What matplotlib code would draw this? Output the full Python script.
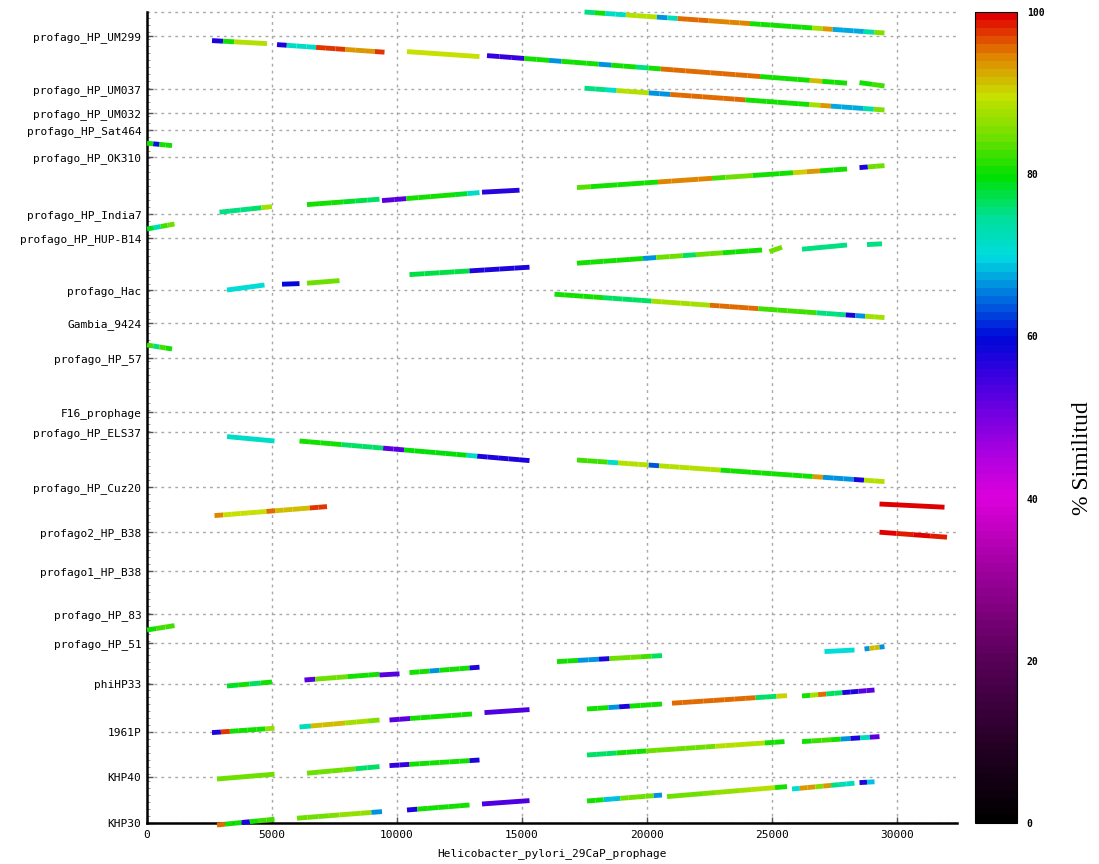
import numpy as np
import matplotlib
matplotlib.use("Agg")
import matplotlib.pyplot as plt
from matplotlib.collections import LineCollection
from matplotlib.colors import LinearSegmentedColormap, Normalize
from matplotlib.cm import ScalarMappable
from matplotlib.ticker import MultipleLocator

# query prophages (bottom to top) and where each starts on the concatenated axis, bp
prophages = ["KHP30", "KHP40", "1961P", "phiHP33", "profago_HP_51", "profago_HP_83",
             "profago1_HP_B38", "profago2_HP_B38", "profago_HP_Cuz20", "profago_HP_ELS37",
             "F16_prophage", "profago_HP_57", "Gambia_9424", "profago_Hac",
             "profago_HP_HUP-B14", "profago_HP_India7", "profago_HP_OK310",
             "profago_HP_Sat464", "profago_HP_UM032", "profago_HP_UM037", "profago_HP_UM299"]
starts = [0, 23000, 45700, 69500, 90000, 104500, 126000, 145700, 168000, 195700,
          205500, 232400, 250000, 266300, 292500, 304300, 332900, 346300, 354900,
          366900, 393500]
query_total = 405500
ref_length = 32400
ref_name = "Helicobacter_pylori_29CaP_prophage"

# alignment blocks: (ref start, ref end, query start, query end, % similarity along the block)
blocks_KHP30 = [
    (2800, 5100, -1000, 1900, [95, 80, 80, 58, 80, 82, 82]),
    (6000, 9400, 2400, 5700, [84, 84, 84, 85, 86, 86, 86, 66]),
    (10400, 12900, 6500, 9000, [58, 80, 80, 80, 80, 80]),
    (13400, 15300, 9500, 11200, [53]),
    (17600, 20600, 11000, 14000, [80, 80, 68, 68, 84, 84, 84, 84, 66]),
    (20800, 25600, 13200, 18200, [84, 84, 84, 85, 86, 86, 87, 88, 88, 80]),
    (25800, 28300, 17000, 19900, [70, 93, 93, 85, 93, 75, 72, 72]),
    (28500, 29100, 20200, 20600, [58, 68]),
]
blocks_KHP40 = [
    (2800, 5100, 22000, 24400, [84]),
    (6400, 9300, 24900, 28200, [84, 84, 84, 84, 76, 76]),
    (9700, 13300, 28700, 31500, [55, 55, 80, 80, 80, 80, 80, 80, 58]),
    (17600, 25500, 34000, 40700, [76, 76, 76, 80, 80, 80, 84, 84, 84, 84, 84, 84, 84,
                                  88, 88, 88, 88, 88, 80, 80]),
    (26200, 29300, 40700, 43200, [80, 82, 82, 80, 66, 58, 72, 52]),
]
blocks_1961P = [
    (2600, 5100, 45200, 47400, [58, 97, 80, 80, 80, 80, 86]),
    (6100, 9300, 48000, 51500, [72, 91, 91, 91, 87, 87, 85]),
    (9700, 13000, 51500, 54500, [52, 52, 80, 80, 80, 80, 80, 80]),
    (13500, 15300, 55200, 56700, [53]),
    (17600, 20600, 57000, 59500, [80, 80, 66, 58, 80, 80, 80]),
    (21000, 25600, 59900, 63700, [95, 95, 95, 95, 95, 95, 95, 95, 76, 76, 90]),
    (26200, 29100, 63500, 66500, [80, 87, 95, 76, 76, 58, 58, 52, 52]),
]
blocks_phiHP33 = [
    (3200, 5000, 68500, 70500, [78, 80, 76, 80]),
    (6300, 9300, 71500, 74400, [52, 84, 84, 84, 80, 80, 80]),
    (9300, 10100, 74000, 74600, [52]),
    (10500, 13300, 75200, 77900, [80, 80, 66, 80, 80, 80, 58]),
    (16400, 20600, 80700, 83700, [80, 80, 66, 66, 58, 84, 84, 84, 82, 76]),
    (27100, 28300, 85700, 86500, [70]),
    (28700, 29500, 87000, 88200, [66, 91, 91, 66]),
]
blocks_HP_51 = [
    (0, 1100, 96500, 98700, [80, 82, 82]),
]
blocks_B38 = [
    (29300, 32000, 145400, 142900, [99, 98, 99, 98]),
    (2700, 7200, 153700, 158200, [94, 89, 89, 89, 89, 89, 95, 91, 91, 91, 91, 97, 97]),
    (29300, 31900, 159500, 157900, [99]),
]
blocks_Cuz20 = [
    (17200, 29500, 181500, 170700, [82, 82, 82, 71, 88, 88, 88, 63, 88, 88, 88, 88, 88,
                                    88, 80, 80, 80, 80, 80, 80, 80, 80, 80, 93, 66, 66,
                                    66, 58, 88, 88]),
    (3200, 5100, 193200, 191000, [71]),
    (6100, 15300, 191000, 181200, [80, 80, 80, 80, 76, 76, 76, 76, 52, 52, 79, 79, 79,
                                   79, 79, 79, 71, 58, 58, 58, 58, 58]),
]
blocks_HP_57 = [
    (0, 1000, 239000, 237000, [82, 75, 82, 80]),
]
blocks_Gambia = [
    (16300, 29500, 264400, 252700, [80, 80, 80, 80, 80, 76, 76, 76, 76, 76, 87, 87, 87,
                                    87, 87, 87, 95, 95, 95, 95, 95, 82, 82, 82, 82, 82,
                                    82, 75, 75, 75, 58, 66, 87, 87]),
]
blocks_Hac = [
    (3200, 4700, 266500, 269000, [70]),
    (5400, 6100, 269400, 269700, [59]),
    (6400, 7700, 269900, 271200, [84]),
    (10500, 15300, 274200, 277900, [77, 77, 77, 77, 58, 58, 58, 58]),
    (17200, 24600, 279900, 286500, [80, 80, 80, 80, 80, 66, 84, 84, 76, 84, 84, 80, 80, 80]),
    (24900, 25400, 285700, 287900, [84]),
    (26200, 28000, 286900, 289000, [75]),
    (28800, 29400, 289200, 289600, [75]),
]
blocks_HUP_B14 = [
    (0, 1100, 297000, 299500, [78, 72, 82, 84]),
]
blocks_India7 = [
    (2900, 5000, 305400, 308200, [75, 75, 75, 76, 87]),
    (6400, 9300, 309200, 311900, [80, 80, 80, 78, 77, 76]),
    (9400, 13300, 311200, 315200, [52, 52, 80, 80, 80, 80, 78, 71]),
    (13400, 14900, 315400, 316400, [57]),
    (17200, 28000, 317700, 327000, [83, 80, 80, 80, 80, 80, 94, 94, 94, 94, 82, 84, 84,
                                    80, 80, 80, 90, 93, 80, 80]),
    (28500, 29500, 327700, 328700, [58, 84, 84]),
]
blocks_OK310 = [
    (0, 1000, 339900, 338700, [80, 60, 80, 80]),
]
blocks_UM032 = [
    (17500, 29500, 367400, 356500, [75, 75, 71, 88, 88, 88, 66, 66, 95, 95, 95, 95, 95,
                                    95, 95, 80, 80, 80, 80, 80, 80, 87, 93, 67, 67, 67,
                                    73, 85]),
]
blocks_UM037 = [
    (2600, 4800, 391200, 389700, [58, 80, 88, 88, 88]),
    (5200, 9500, 389200, 385400, [58, 71, 71, 71, 97, 97, 97, 93, 93, 93, 97]),
    (10400, 13300, 385700, 383200, [89]),
    (13600, 28000, 383700, 369900, [55, 55, 55, 80, 80, 66, 80, 80, 80, 66, 80, 80, 75,
                                    80, 95, 95, 95, 95, 95, 95, 95, 95, 80, 80, 80, 80,
                                    91, 80, 80]),
    (28500, 29500, 370200, 368500, [80, 82]),
]
blocks_UM299 = [
    (17500, 29500, 405500, 395000, [75, 80, 71, 71, 88, 88, 88, 66, 72, 95, 95, 95, 94,
                                    94, 94, 94, 80, 80, 80, 80, 80, 80, 87, 93, 67, 67,
                                    67, 73, 85]),
]
all_blocks = (blocks_KHP30 + blocks_KHP40 + blocks_1961P + blocks_phiHP33 + blocks_HP_51
              + blocks_B38 + blocks_Cuz20 + blocks_HP_57 + blocks_Gambia + blocks_Hac
              + blocks_HUP_B14 + blocks_India7 + blocks_OK310 + blocks_UM032
              + blocks_UM037 + blocks_UM299)

# colour scale of the similarity (0 black -> 40 magenta -> 60 blue -> 80 green -> 100 red)
cmap_stops = [(0.00, "#000000"), (0.10, "#280028"), (0.20, "#580058"), (0.30, "#980098"),
              (0.40, "#dc00dc"), (0.45, "#b000e0"), (0.50, "#7800e0"), (0.55, "#3c00e0"),
              (0.60, "#0008d8"), (0.65, "#0070e0"), (0.70, "#00dce0"), (0.75, "#00e098"),
              (0.80, "#00e000"), (0.85, "#70e000"), (0.90, "#c8e000"), (0.95, "#e08400"),
              (1.00, "#e00000")]
cmap = LinearSegmentedColormap.from_list("similitud", cmap_stops, N=100)
norm = Normalize(0, 100)

fig = plt.figure(figsize=(10.99, 8.64), dpi=100)
ax = fig.add_axes([147 / 1099, 41 / 864, 810 / 1099, 811 / 864])

segs, vals = [], []
for x0, x1, y0, y1, sims in all_blocks:
    n = len(sims)
    xs = np.linspace(x0, x1, n + 1)
    ys = np.linspace(y0, y1, n + 1)
    for i in range(n):
        segs.append([(xs[i], ys[i]), (xs[i + 1], ys[i + 1])])
        vals.append(sims[i])

lc = LineCollection(segs, cmap=cmap, norm=norm, linewidths=3.5, capstyle="butt", zorder=3)
lc.set_array(np.array(vals))
lc.set_clip_on(False)
ax.add_collection(lc)

ax.set_xlim(0, ref_length)
ax.set_ylim(0, query_total)

mono = "DejaVu Sans Mono"
ax.set_xticks(range(0, 30001, 5000))
ax.set_xticklabels([str(v) for v in range(0, 30001, 5000)], fontfamily=mono, fontsize=8)
ax.set_yticks(starts)
ax.set_yticklabels(prophages, fontfamily=mono, fontsize=8)
ax.yaxis.set_minor_locator(MultipleLocator(3500))
ax.tick_params(axis="both", which="major", direction="in", length=4, width=1, color="#555555")
ax.tick_params(axis="y", which="minor", direction="in", length=2, color="#888888")
ax.tick_params(axis="y", pad=4)
ax.tick_params(axis="x", pad=5)
ax.set_xlabel(ref_name, fontfamily=mono, fontsize=8, labelpad=6)

ax.grid(True, linestyle=(0, (2, 3)), color="#a8a8a8", linewidth=1, zorder=0)
ax.axhline(query_total, linestyle=(0, (2, 3)), color="#a8a8a8", linewidth=1, clip_on=False)
ax.set_axisbelow(True)
for side in ("top", "right"):
    ax.spines[side].set_visible(False)
for side in ("left", "bottom"):
    ax.spines[side].set_linewidth(1.8)
    ax.spines[side].set_color("black")

# colour bar
cax = fig.add_axes([975 / 1099, 41 / 864, 42 / 1099, 811 / 864])
sm = ScalarMappable(norm=norm, cmap=cmap)
cb = fig.colorbar(sm, cax=cax, ticks=[0, 20, 40, 60, 80, 100])
cb.outline.set_linewidth(0.8)
cax.tick_params(length=0, pad=7)
cax.set_yticklabels(["0", "20", "40", "60", "80", "100"], fontfamily=mono, fontsize=7,
                    fontweight="bold")
cax.set_ylabel("% Similitud", fontfamily="Liberation Serif", fontsize=17, rotation=90,
               va="center", ha="center")
cax.yaxis.set_label_coords(2.55, 0.45)

fig.savefig("out.png", dpi=100)
